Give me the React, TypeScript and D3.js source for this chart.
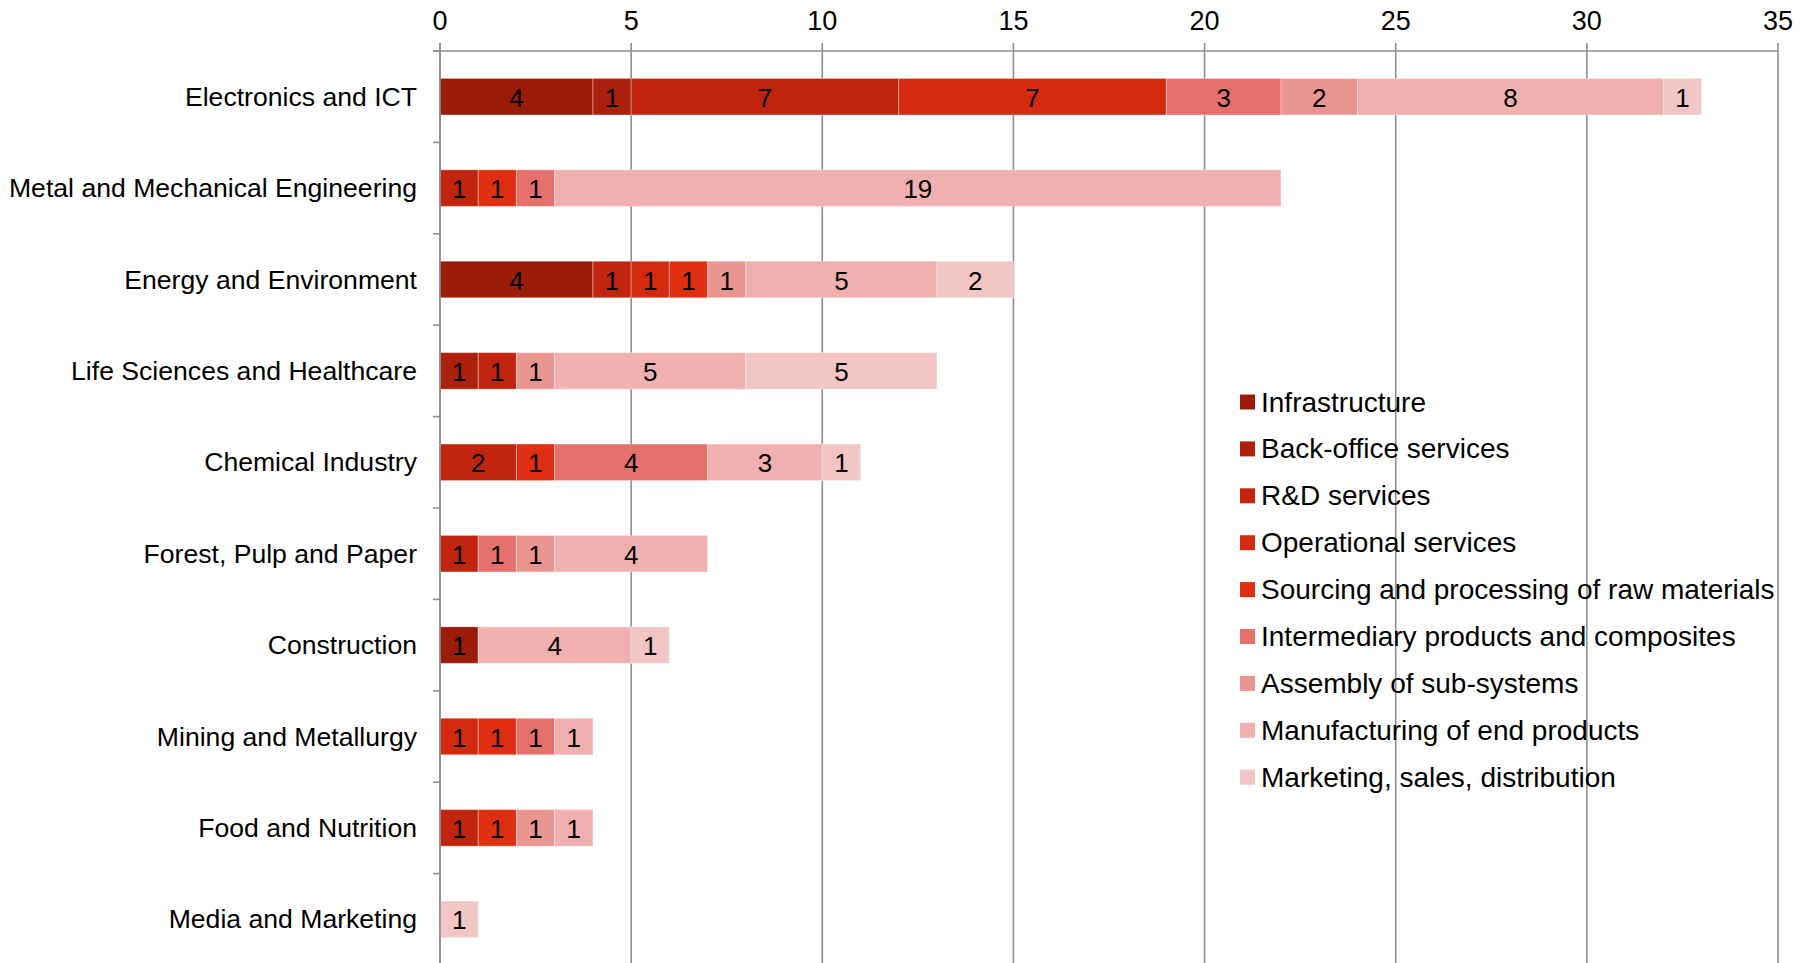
import React from "react";
import * as d3 from "d3";

const categories = [
  "Electronics and ICT",
  "Metal and Mechanical Engineering",
  "Energy and Environment",
  "Life Sciences and Healthcare",
  "Chemical Industry",
  "Forest, Pulp and Paper",
  "Construction",
  "Mining and Metallurgy",
  "Food and Nutrition",
  "Media and Marketing",
];

const seriesNames = [
  "Infrastructure",
  "Back-office services",
  "R&D services",
  "Operational services",
  "Sourcing and processing of raw materials",
  "Intermediary products and composites",
  "Assembly of sub-systems",
  "Manufacturing of end products",
  "Marketing, sales, distribution",
];

const infrastructure = [4, 0, 4, 0, 0, 0, 1, 0, 0, 0];
const backOffice = [1, 0, 0, 1, 0, 0, 0, 0, 0, 0];
const rnd = [7, 1, 1, 1, 2, 1, 0, 0, 1, 0];
const operational = [7, 0, 1, 0, 0, 0, 0, 1, 0, 0];
const sourcing = [0, 1, 1, 0, 1, 0, 0, 1, 1, 0];
const intermediary = [3, 1, 0, 0, 4, 1, 0, 1, 0, 0];
const assembly = [2, 0, 1, 1, 0, 1, 0, 0, 1, 0];
const manufacturing = [8, 19, 5, 5, 3, 4, 4, 1, 1, 0];
const marketing = [1, 0, 2, 5, 1, 0, 1, 0, 0, 1];

const seriesValues = [
  infrastructure,
  backOffice,
  rnd,
  operational,
  sourcing,
  intermediary,
  assembly,
  manufacturing,
  marketing,
];

const colors = [
  "#9C1C0A",
  "#AC200C",
  "#C1250F",
  "#D42A10",
  "#E02E12",
  "#E6716C",
  "#EA958F",
  "#F0B0AF",
  "#F3C6C6",
];

const xTicks = [0, 5, 10, 15, 20, 25, 30, 35];

const W = 1812;
const H = 963;
const FONT = "'Liberation Sans', Arial, sans-serif";

export default function App() {
  const x = d3.scaleLinear().domain([0, 35]).range([440, 1778]);
  const y = d3
    .scaleBand<string>()
    .domain(categories)
    .range([51, 965])
    .paddingInner(0.6)
    .paddingOuter(0.3);

  const rows = categories.map((c, i) => {
    const o: Record<string, number | string> = { cat: c };
    seriesNames.forEach((s, j) => (o[s] = seriesValues[j][i]));
    return o;
  });
  const stack = d3.stack<any>().keys(seriesNames)(rows as any);

  const step = y.step();
  const y0 = 51;
  const boundaries = d3.range(categories.length + 1).map((i) => y0 + i * step);

  const gridColor = "#8E8E8E";

  return (
    <svg
      width={W}
      height={H}
      style={{ position: "absolute", left: 0, top: 0, background: "#fff" }}
      fontFamily={FONT}
    >
      {xTicks.map((t) => (
        <line
          key={"g" + t}
          x1={x(t)}
          x2={x(t)}
          y1={43}
          y2={H}
          stroke={gridColor}
          strokeWidth={1.6}
        />
      ))}
      <line x1={433} x2={x(35)} y1={51} y2={51} stroke={gridColor} strokeWidth={1.6} />
      {boundaries.map((b, i) => (
        <line key={"lt" + i} x1={433} x2={440} y1={b} y2={b} stroke={gridColor} strokeWidth={1.6} />
      ))}
      {xTicks.map((t) => (
        <text
          key={"tl" + t}
          x={x(t)}
          y={21}
          textAnchor="middle"
          dominantBaseline="central"
          fontSize={27}
          fill="#000"
        >
          {t}
        </text>
      ))}
      {stack.map((layer, j) =>
        layer.map((d, i) => {
          const v = d[1] - d[0];
          if (v <= 0) return null;
          const yy = y(categories[i])!;
          const bw = y.bandwidth();
          return (
            <g key={`b${j}-${i}`}>
              <rect
                x={x(d[0])}
                y={yy}
                width={x(d[1]) - x(d[0])}
                height={bw}
                fill={colors[j]}
                stroke="rgba(255,255,255,0.35)"
                strokeWidth={1}
              />
              <text
                x={(x(d[0]) + x(d[1])) / 2}
                y={yy + bw / 2 + 1}
                textAnchor="middle"
                dominantBaseline="central"
                fontSize={26}
                fill="#000"
              >
                {v}
              </text>
            </g>
          );
        })
      )}
      <line x1={440} x2={440} y1={43} y2={H} stroke={gridColor} strokeWidth={1.6} />
      {categories.map((c) => (
        <text
          key={"c" + c}
          x={417}
          y={y(c)! + y.bandwidth() / 2}
          textAnchor="end"
          dominantBaseline="central"
          fontSize={26.6}
          fill="#000"
        >
          {c}
        </text>
      ))}
      {seriesNames.map((s, j) => {
        const cy = 402 + j * 46.9;
        return (
          <g key={"lg" + s}>
            <rect x={1240} y={cy - 7.5} width={15} height={15} fill={colors[j]} />
            <text x={1261} y={cy} dominantBaseline="central" fontSize={28} fill="#000">
              {s}
            </text>
          </g>
        );
      })}
    </svg>
  );
}
